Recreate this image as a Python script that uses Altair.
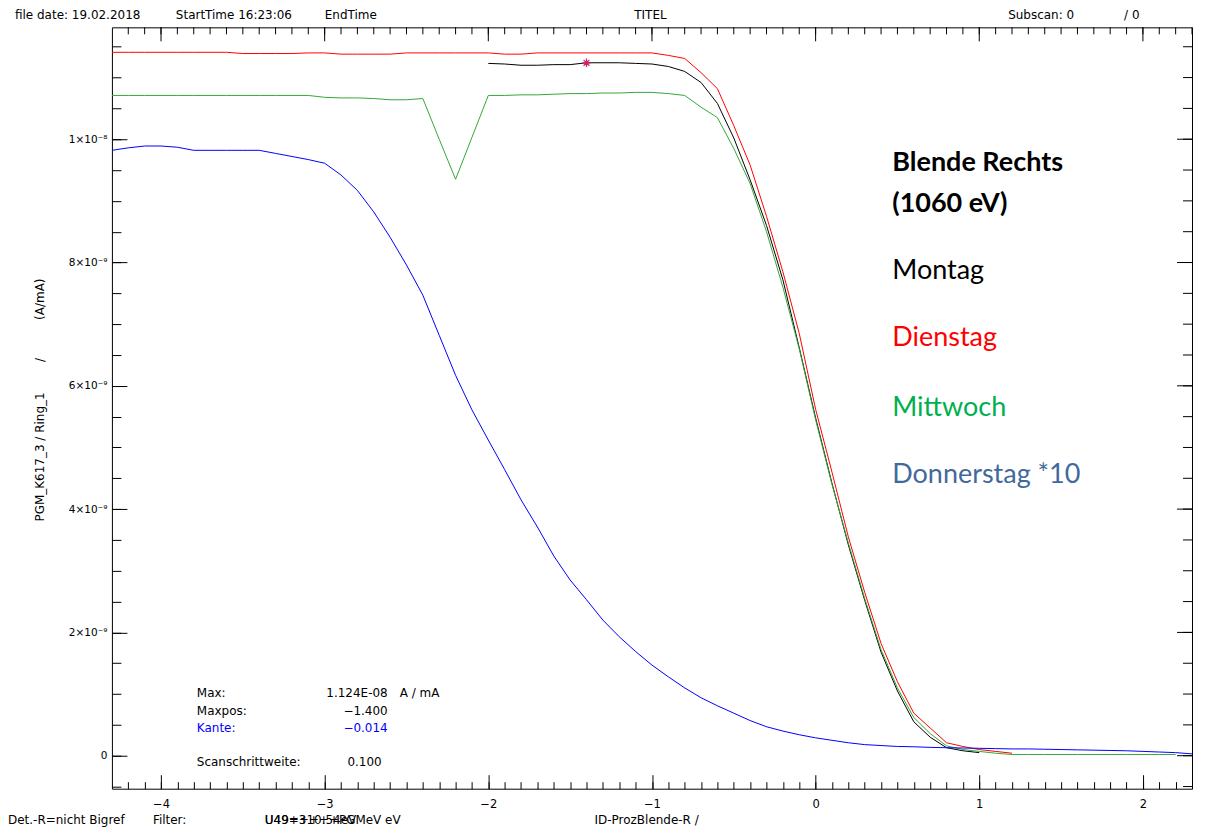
import altair as alt
import pandas as pd

STEP = 0.1  # scan step (Scanschrittweite)

# ---- series values (units of 1e-9 A/mA), sampled on a 0.1 grid ----
montag_start = -2.0
montag_v = [11.23, 11.22, 11.20, 11.20, 11.21, 11.21, 11.24, 11.24, 11.24, 11.23,
            11.22, 11.18, 11.10, 10.92, 10.58, 10.02, 9.34, 8.60, 7.72, 6.62,
            5.48, 4.42, 3.42, 2.52, 1.68, 1.05, 0.55, 0.30, 0.13, 0.08, 0.05]

dienstag_start = -4.3
dienstag_v = [11.41, 11.41, 11.41, 11.41, 11.41, 11.41, 11.41, 11.41, 11.39, 11.39,
              11.39, 11.39, 11.40, 11.40, 11.38, 11.38, 11.38, 11.38, 11.40, 11.40,
              11.40, 11.40, 11.40, 11.40, 11.38, 11.38, 11.40, 11.40, 11.40, 11.40,
              11.40, 11.40, 11.40, 11.40,
              11.36, 11.31, 11.08, 10.82, 10.22, 9.58, 8.75, 7.85, 6.85, 5.62,
              4.60, 3.55, 2.65, 1.82, 1.20, 0.69, 0.45, 0.21, 0.15, 0.10, 0.07, 0.04]

mittwoch_start = -4.3
mittwoch_v = [10.71, 10.71, 10.71, 10.71, 10.71, 10.71, 10.71, 10.71, 10.71, 10.71,
              10.71, 10.71, 10.71,
              10.68, 10.67, 10.67, 10.66, 10.64, 10.64, 10.66, 10.00, 9.35, 10.03,
              10.71, 10.71, 10.72, 10.72, 10.73, 10.74, 10.74, 10.75, 10.75, 10.76,
              10.76, 10.74, 10.71, 10.52, 10.35, 9.85, 9.28, 8.50, 7.60, 6.60,
              5.45, 4.40, 3.45, 2.55, 1.72, 1.10, 0.62, 0.36, 0.16, 0.10,
              0.07, 0.04, 0.02, 0.02, 0.02, 0.02, 0.02, 0.02, 0.02, 0.02, 0.02, 0.02, 0.02]

donnerstag_start = -4.3
donnerstag_v = [9.82, 9.86, 9.89, 9.89, 9.87, 9.82, 9.82, 9.82, 9.82, 9.82,
                9.77, 9.72, 9.67, 9.61, 9.42, 9.17, 8.82, 8.41, 7.96, 7.47,
                6.82, 6.17, 5.61, 5.12, 4.64, 4.15, 3.71, 3.24, 2.85, 2.53,
                2.20, 1.93, 1.69, 1.47, 1.28, 1.10, 0.94, 0.81, 0.69, 0.57,
                0.47, 0.40, 0.34, 0.29, 0.25, 0.21, 0.18, 0.165, 0.15, 0.145,
                0.135, 0.13, 0.125, 0.12, 0.115, 0.11, 0.11, 0.105, 0.10, 0.095,
                0.09, 0.085, 0.08, 0.07, 0.06, 0.05, 0.03]

max_x = [-1.4]
max_v = [11.24]

series_names = ["Montag", "Dienstag", "Mittwoch", "Donnerstag"]
series_colors = ["#000000", "#FF0000", "#35A835", "#0000FF"]

x_major = [-4, -3, -2, -1, 0, 1, 2]
x_minor = [round(-4.2 + STEP * i, 1) for i in range(66)]
y_major = [0, 2, 4, 6, 8, 10]
y_minor = [round(-0.5 + 0.5 * i, 1) for i in range(25)]

XDOM = [-4.3, 2.3]
YDOM = [-0.535, 11.815]
W, H = 1081, 762

FONT = "DejaVu Sans"
LEG_FONT = "Lato"
NB = "\u00A0"


def grid(start, vals):
    return [round(start + STEP * i, 2) for i in range(len(vals))]


rows = []
for name, start, vals in [("Montag", montag_start, montag_v),
                          ("Dienstag", dienstag_start, dienstag_v),
                          ("Mittwoch", mittwoch_start, mittwoch_v),
                          ("Donnerstag", donnerstag_start, donnerstag_v)]:
    for xv, v in zip(grid(start, vals), vals):
        rows.append({"series": name, "x": xv, "v": v})
df = pd.DataFrame(rows)
star_df = pd.DataFrame({"x": max_x, "v": max_v})

xs = alt.Scale(domain=XDOM, nice=False, zero=False)
ys = alt.Scale(domain=YDOM, nice=False, zero=False)

lines = alt.Chart(df).mark_line(strokeWidth=1, clip=True).encode(
    x=alt.X("x:Q", scale=xs, axis=alt.Axis(orient="bottom", values=x_major, ticks=False,
                                           domain=False, grid=False, title=None, labelPadding=10,
                                           labelFont=FONT, labelFontSize=11.5, labelColor="black")),
    y=alt.Y("v:Q", scale=ys, axis=alt.Axis(orient="left", values=y_major, ticks=False,
                                           domain=False, grid=False, title=None, labelPadding=5,
                                           labelFont=FONT, labelFontSize=10.5, labelColor="black",
                                           labelExpr="datum.value == 0 ? '0' : datum.value == 10 ? '1×10⁻⁸' : datum.value + '×10⁻⁹'")),
    color=alt.Color("series:N", scale=alt.Scale(domain=series_names, range=series_colors), legend=None),
    detail="series:N",
)

star = alt.Chart(star_df).mark_point(
    shape="M-1,0L1,0M0,-1L0,1M-0.7,-0.7L0.7,0.7M-0.7,0.7L0.7,-0.7",
    filled=False, size=70, strokeWidth=1.2, color="#D0206A", opacity=1,
).encode(x=alt.X("x:Q", scale=xs, axis=None), y=alt.Y("v:Q", scale=ys, axis=None))


def tick_axis(orient, vals, size):
    return alt.Axis(orient=orient, values=vals, tickSize=size, offset=-size, labels=False,
                    domain=False, grid=False, title=None, tickColor="black", tickWidth=1)


def tick_layer(xo, xv, xsz, yo, yv, ysz):
    return alt.Chart(df).mark_point(opacity=0).encode(
        x=alt.X("x:Q", scale=xs, axis=tick_axis(xo, xv, xsz)),
        y=alt.Y("v:Q", scale=ys, axis=tick_axis(yo, yv, ysz)),
    )


def top_ticks(vals, size):
    return alt.Chart(pd.DataFrame({"x": vals})).mark_rule(color="black", strokeWidth=1).encode(
        x=alt.X("x:Q", scale=xs, axis=None), y=alt.value(0), y2=alt.value(size))


def right_ticks(vals, size):
    return alt.Chart(pd.DataFrame({"v": vals})).mark_rule(color="black", strokeWidth=1).encode(
        y=alt.Y("v:Q", scale=ys, axis=None), x=alt.value(W - size), x2=alt.value(W))


ticks = [
    tick_layer("bottom", x_major, 14, "left", y_major, 15),
    tick_layer("bottom", x_minor, 7, "left", y_minor, 9),
    top_ticks(x_major, 14),
    top_ticks(x_minor, 7),
    right_ticks(y_major, 15),
    right_ticks(y_minor, 9),
]


def label(text, x, y, size=12, color="black", align="left", weight="normal", font=FONT,
          angle=0, baseline="alphabetic"):
    return alt.Chart(pd.DataFrame({"t": [text]})).mark_text(
        align=align, baseline=baseline, fontSize=size, color=color, font=font,
        fontWeight=weight, angle=angle,
    ).encode(x=alt.value(x), y=alt.value(y), text="t:N")


y_title = "PGM_K617_3 / Ring_1" + NB * 8 + "/" + NB * 10 + "(A/mA)"

texts = [
    # header
    label("file date: 19.02.2018", -97, -8),
    label("StartTime 16:23:06", 64, -8),
    label("EndTime", 213, -8),
    label("TITEL", 539, -8, align="center"),
    label("Subscan: 0", 897, -8),
    label("/ 0", 1013, -8),
    # footer
    label("Det.-R=nicht Bigref", -104, 797),
    label("Filter:", 41, 797),
    label("U49=310.54eV", 153, 797),
    label("U49+++++PGMeV eV", 153, 797),
    label("ID-ProzBlende-R /", 483, 797),
    # y title
    label(y_title, -72, 373, size=12, angle=270, align="center", baseline="middle"),
    # info box
    label("Max:", 85, 670),
    label("1.124E-08", 276, 670, align="right"),
    label("A / mA", 288, 670),
    label("Maxpos:", 85, 688),
    label("\u22121.400", 276, 688, align="right"),
    label("Kante:", 85, 705, color="#0000FF"),
    label("\u22120.014", 276, 705, align="right", color="#0000FF"),
    label("Scanschrittweite:", 85, 739),
    label("0.100", 270, 739, align="right"),
    # legend block
    label("Blende Rechts", 781, 144, size=27, weight="bold", font=LEG_FONT),
    label("(1060 eV)", 781, 185, size=27, weight="bold", font=LEG_FONT),
    label("Montag", 781, 252, size=27, font=LEG_FONT),
    label("Dienstag", 781, 319, size=27, font=LEG_FONT, color="#FF0000"),
    label("Mittwoch", 781, 389, size=27, font=LEG_FONT, color="#00B050"),
    label("Donnerstag *10", 781, 456, size=27, font=LEG_FONT, color="#41699C"),
]

chart = alt.layer(lines, star, *ticks, *texts).resolve_axis(
    x="independent", y="independent"
).properties(
    width=W, height=H,
    padding={"left": 104, "top": 19, "right": 10, "bottom": 44},
    autosize=alt.AutoSizeParams(type="none"),
    background="white",
).configure_view(stroke="black", strokeWidth=1).configure_axis(grid=False)

chart.save("out.html", embed_options={"renderer": "svg", "actions": False})
